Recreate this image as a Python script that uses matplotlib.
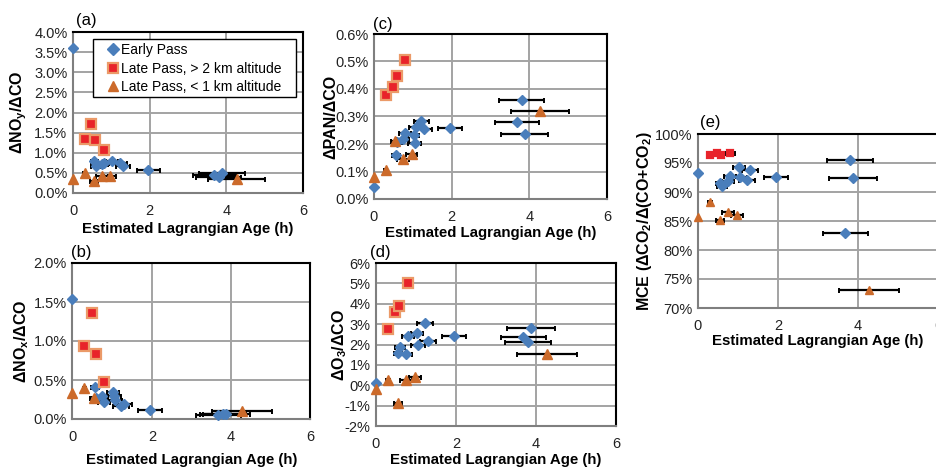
import matplotlib
matplotlib.use("Agg")
import matplotlib.pyplot as plt
import numpy as np
from matplotlib.lines import Line2D
from matplotlib.patches import Rectangle
from matplotlib.ticker import FuncFormatter, MultipleLocator

plt.rcParams["font.family"] = ["Liberation Sans", "DejaVu Sans"]
plt.rcParams["mathtext.fontset"] = "custom"
plt.rcParams["mathtext.bf"] = "Liberation Sans:bold"
plt.rcParams["mathtext.rm"] = "Liberation Sans"
plt.rcParams["mathtext.default"] = "bf"

nan = np.nan

# estimated Lagrangian age (h) and its uncertainty, per series
blue_age = [0, 0.56, 0.6, 0.75, 0.8, 1.02, 1.05, 1.08, 1.22, 1.3, 1.96, 3.68, 3.8, 3.88]
blue_err = [0, 0.1, 0.12, 0.15, 0.15, 0.15, 0.17, 0.18, 0.2, 0.19, 0.3, 0.56, 0.58, 0.6]
red_age = [0.3, 0.48, 0.58, 0.8]
red_err = [0.04, 0.05, 0.07, 0.12]
orange_age = [0, 0.3, 0.54, 0.75, 0.97, 4.27]
orange_err = [0, 0.04, 0.1, 0.15, 0.15, 0.75]

# enhancement ratios (%)
noy_blue = [3.6, 0.80, 0.68, 0.71, 0.75, 0.80, nan, nan, 0.74, 0.68, 0.57, 0.44, 0.40, 0.50]
noy_red = [1.33, 1.71, 1.32, 1.07]
noy_orange = [0.36, 0.50, 0.30, 0.43, 0.43, 0.35]

nox_blue = [1.54, 0.41, 0.27, 0.29, 0.22, 0.34, 0.29, 0.24, 0.17, 0.19, 0.11, 0.05, 0.06, 0.07]
nox_red = [0.93, 1.36, 0.83, 0.47]
nox_orange = [0.33, 0.40, 0.27, nan, nan, 0.10]

pan_blue = [0.043, 0.161, 0.206, 0.22, 0.24, 0.233, 0.202, 0.263, 0.283, 0.254, 0.258, 0.281, 0.36, 0.235]
pan_red = [0.378, 0.406, 0.447, 0.505]
pan_orange = [0.081, 0.105, 0.212, 0.145, 0.164, 0.321]

o3_blue = [0.09, 1.6, 1.9, 1.54, 2.42, 2.55, 2.0, nan, 3.05, 2.17, 2.44, 2.38, 2.14, 2.8]
o3_red = [2.76, 3.58, 3.9, 5.0]
o3_orange = [-0.18, 0.26, -0.86, 0.26, 0.42, 1.53]

mce_blue = [93.3, 91.6, 91.1, 91.9, 92.8, 94.3, 92.6, nan, 92.0, 93.8, 92.6, 82.9, 95.5, 92.4]
mce_red = [96.3, 96.8, 96.4, 96.7]
mce_orange = [85.7, 88.3, 85.1, 86.5, 86.1, 73.1]

series_labels = ["Early Pass", "Late Pass, > 2 km altitude", "Late Pass, < 1 km altitude"]

W, H = 937, 471
BLUE = "#4a7ebb"
RED = "#e8232a"
RED_EDGE = "#eb9a68"
ORANGE = "#cc6a2a"


def px_rect(left, top, right, bottom):
    return [left / W, 1 - bottom / H, (right - left) / W, (bottom - top) / H]


def fig_xy(x, y):
    return x / W, 1 - y / H


def draw_panel(ax, blue, red, orange, ylim, ystep, fmt, red_edge, sq_ms, tri_ms):
    styles = [
        dict(marker="D", ms=5, color=BLUE, mec=BLUE),
        dict(marker="s", ms=sq_ms, color=RED, mec=red_edge, mew=1.6),
        dict(marker="^", ms=tri_ms, color=ORANGE, mec=ORANGE),
    ]
    data = [(blue_age, blue_err, blue), (red_age, red_err, red), (orange_age, orange_err, orange)]
    for (age, err, y), st in zip(data, styles):
        age = np.array(age)
        err = np.array(err)
        y = np.array(y, dtype=float)
        ok = np.isfinite(y)
        has_err = ok & (err > 0)
        ax.errorbar(age[has_err], y[has_err], xerr=err[has_err], fmt="none",
                    ecolor="black", elinewidth=1.6, capsize=1.8, capthick=1.4, zorder=3)
        ax.plot(age[ok], y[ok], ls="none", zorder=4, clip_on=False, **st)

    ax.set_xlim(0, 6)
    ax.set_ylim(*ylim)
    ax.xaxis.set_major_locator(MultipleLocator(2))
    ax.yaxis.set_major_locator(MultipleLocator(ystep))
    ax.yaxis.set_major_formatter(FuncFormatter(lambda v, p: fmt.format(v) + "%"))
    ax.grid(True, color="#a3a3a3", lw=1.4)
    ax.set_axisbelow(True)
    ax.tick_params(length=0, labelsize=10.5, colors="#222222")
    ax.tick_params(axis="x", pad=8)
    ax.tick_params(axis="y", pad=4)
    for side in ["top", "right"]:
        ax.spines[side].set_color("black")
        ax.spines[side].set_linewidth(1.5)
    for side in ["left", "bottom"]:
        ax.spines[side].set_color("#7f7f7f")
        ax.spines[side].set_linewidth(1.5)


fig = plt.figure(figsize=(W / 100, H / 100), dpi=100)

panels = [
    dict(tag="(a)", rect=(73, 32, 303, 193), vals=(noy_blue, noy_red, noy_orange),
         ylim=(0, 4.0), ystep=0.5, fmt="{:.1f}", ylabel=r"ΔNO$_y$/ΔCO",
         tag_xy=(76, 21), ylab_x=19, xlab_y=229, edge=RED_EDGE, sq=6.5, tri=6.5),
    dict(tag="(b)", rect=(72.5, 263, 310.5, 419), vals=(nox_blue, nox_red, nox_orange),
         ylim=(0, 2.0), ystep=0.5, fmt="{:.1f}", ylabel=r"ΔNO$_x$/ΔCO",
         tag_xy=(71, 253), ylab_x=22, xlab_y=460, edge=RED_EDGE, sq=6.5, tri=6.5),
    dict(tag="(c)", rect=(374, 34, 607, 199), vals=(pan_blue, pan_red, pan_orange),
         ylim=(0, 0.6), ystep=0.1, fmt="{:.1f}", ylabel="ΔPAN/ΔCO",
         tag_xy=(373, 24), ylab_x=331, xlab_y=233, edge=RED_EDGE, sq=6.5, tri=6.5),
    dict(tag="(d)", rect=(376, 263, 616, 426), vals=(o3_blue, o3_red, o3_orange),
         ylim=(-2, 6), ystep=1, fmt="{:.0f}", ylabel=r"ΔO$_3$/ΔCO",
         tag_xy=(370, 252), ylab_x=340, xlab_y=460, edge=RED_EDGE, sq=6.5, tri=6.5),
    dict(tag="(e)", rect=(698, 134, 938, 308), vals=(mce_blue, mce_red, mce_orange),
         ylim=(70, 100), ystep=5, fmt="{:.0f}", ylabel=r"MCE (ΔCO$_2$/Δ(CO+CO$_2$)",
         tag_xy=(700, 123), ylab_x=645, xlab_y=341, edge=RED, sq=5, tri=5.5),
]

axes = []
for p in panels:
    ax = fig.add_axes(px_rect(*p["rect"]))
    draw_panel(ax, *p["vals"], p["ylim"], p["ystep"], p["fmt"], p["edge"], p["sq"], p["tri"])
    left, top, right, bottom = p["rect"]
    ax.set_xlabel("Estimated Lagrangian Age (h)", fontsize=10.8, fontweight="bold",
                  va="center", ha="center")
    ax.xaxis.set_label_coords(*fig_xy((left + right) / 2, p["xlab_y"]), transform=fig.transFigure)
    ax.set_ylabel(p["ylabel"], fontsize=11.5, fontweight="bold", va="center", ha="center")
    ax.yaxis.set_label_coords(*fig_xy(p["ylab_x"], (top + bottom) / 2), transform=fig.transFigure)
    tx, ty = fig_xy(*p["tag_xy"])
    fig.text(tx, ty, p["tag"], fontsize=12, ha="left", va="center")
    axes.append(ax)

# legend box in panel (a)
x0, y0 = fig_xy(93, 97)
x1, y1 = fig_xy(296, 39)
fig.patches.append(Rectangle((x0, y0), x1 - x0, y1 - y0, transform=fig.transFigure,
                             facecolor="white", edgecolor="black", lw=1.0, zorder=9))
handles = [
    Line2D([], [], ls="none", marker="D", ms=6, color=BLUE),
    Line2D([], [], ls="none", marker="s", ms=7, color=RED, mec=RED_EDGE, mew=1.6),
    Line2D([], [], ls="none", marker="^", ms=7, color=ORANGE),
]
leg = fig.legend(handles, series_labels, loc="upper left", bbox_to_anchor=fig_xy(107, 43),
                 bbox_transform=fig.transFigure, fontsize=10, frameon=False,
                 borderaxespad=0, borderpad=0, handlelength=0.8, handletextpad=0.2,
                 labelspacing=0.33)
leg.set_zorder(10)

fig.savefig("out.png", dpi=100)
